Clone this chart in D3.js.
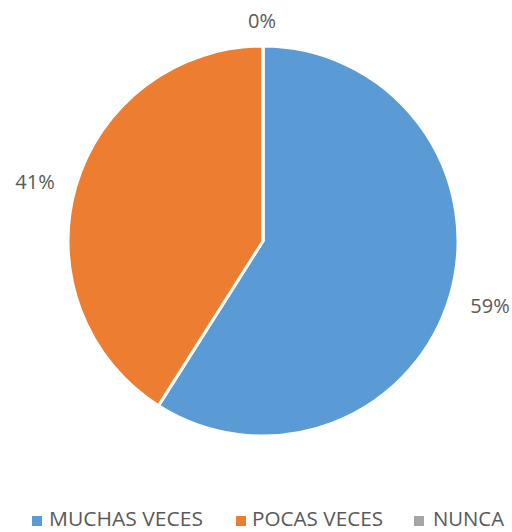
<!DOCTYPE html>
<html><head><meta charset="utf-8">
<script src="https://cdn.jsdelivr.net/npm/d3@7"></script>
<style>body{margin:0;background:#fff}</style>
</head><body>
<script>
const categories = ["MUCHAS VECES", "POCAS VECES", "NUNCA"];
const values = [59, 41, 0];
const labels = ["59%", "41%", "0%"];
const colors = ["#5B9BD5", "#ED7D31", "#A5A5A5"];

const W = 512, H = 532, cx = 263, cy = 241, r = 195;
const svg = d3.select("body").append("svg").attr("width", W).attr("height", H);
const font = "'Open Sans', 'Liberation Sans', sans-serif";

const pie = d3.pie().sort(null).value(d => d)(values);
const arc = d3.arc().innerRadius(0).outerRadius(r);
const g = svg.append("g").attr("transform", `translate(${cx},${cy})`);
g.selectAll("path").data(pie).enter().append("path")
  .attr("d", arc).attr("fill", (d,i) => colors[i])
  .attr("stroke", "#fff").attr("stroke-width", 3).attr("stroke-linejoin", "round");

// label positions outside
const labelPos = [[490, 306], [35, 182], [262, 21]];
svg.selectAll("text.lbl").data(labels).enter().append("text")
  .attr("class", "lbl")
  .attr("x", (d,i) => labelPos[i][0]).attr("y", (d,i) => labelPos[i][1] + 7)
  .attr("text-anchor", "middle")
  .attr("font-family", font).attr("font-size", 20).attr("fill", "#595959")
  .text(d => d);

// legend
const legSq = [32, 236, 414];
const legTx = [49, 252, 433];
const legW = [154, 131, 71];
const lg = svg.append("g");
categories.forEach((c, i) => {
  lg.append("rect").attr("x", legSq[i]).attr("y", 516).attr("width", 10).attr("height", 10).attr("fill", colors[i]);
  lg.append("text").attr("x", legTx[i]).attr("y", 526)
    .attr("textLength", legW[i]).attr("lengthAdjust", "spacingAndGlyphs")
    .attr("font-family", font).attr("font-size", 20).attr("fill", "#595959").text(c);
});
</script>
</body></html>
